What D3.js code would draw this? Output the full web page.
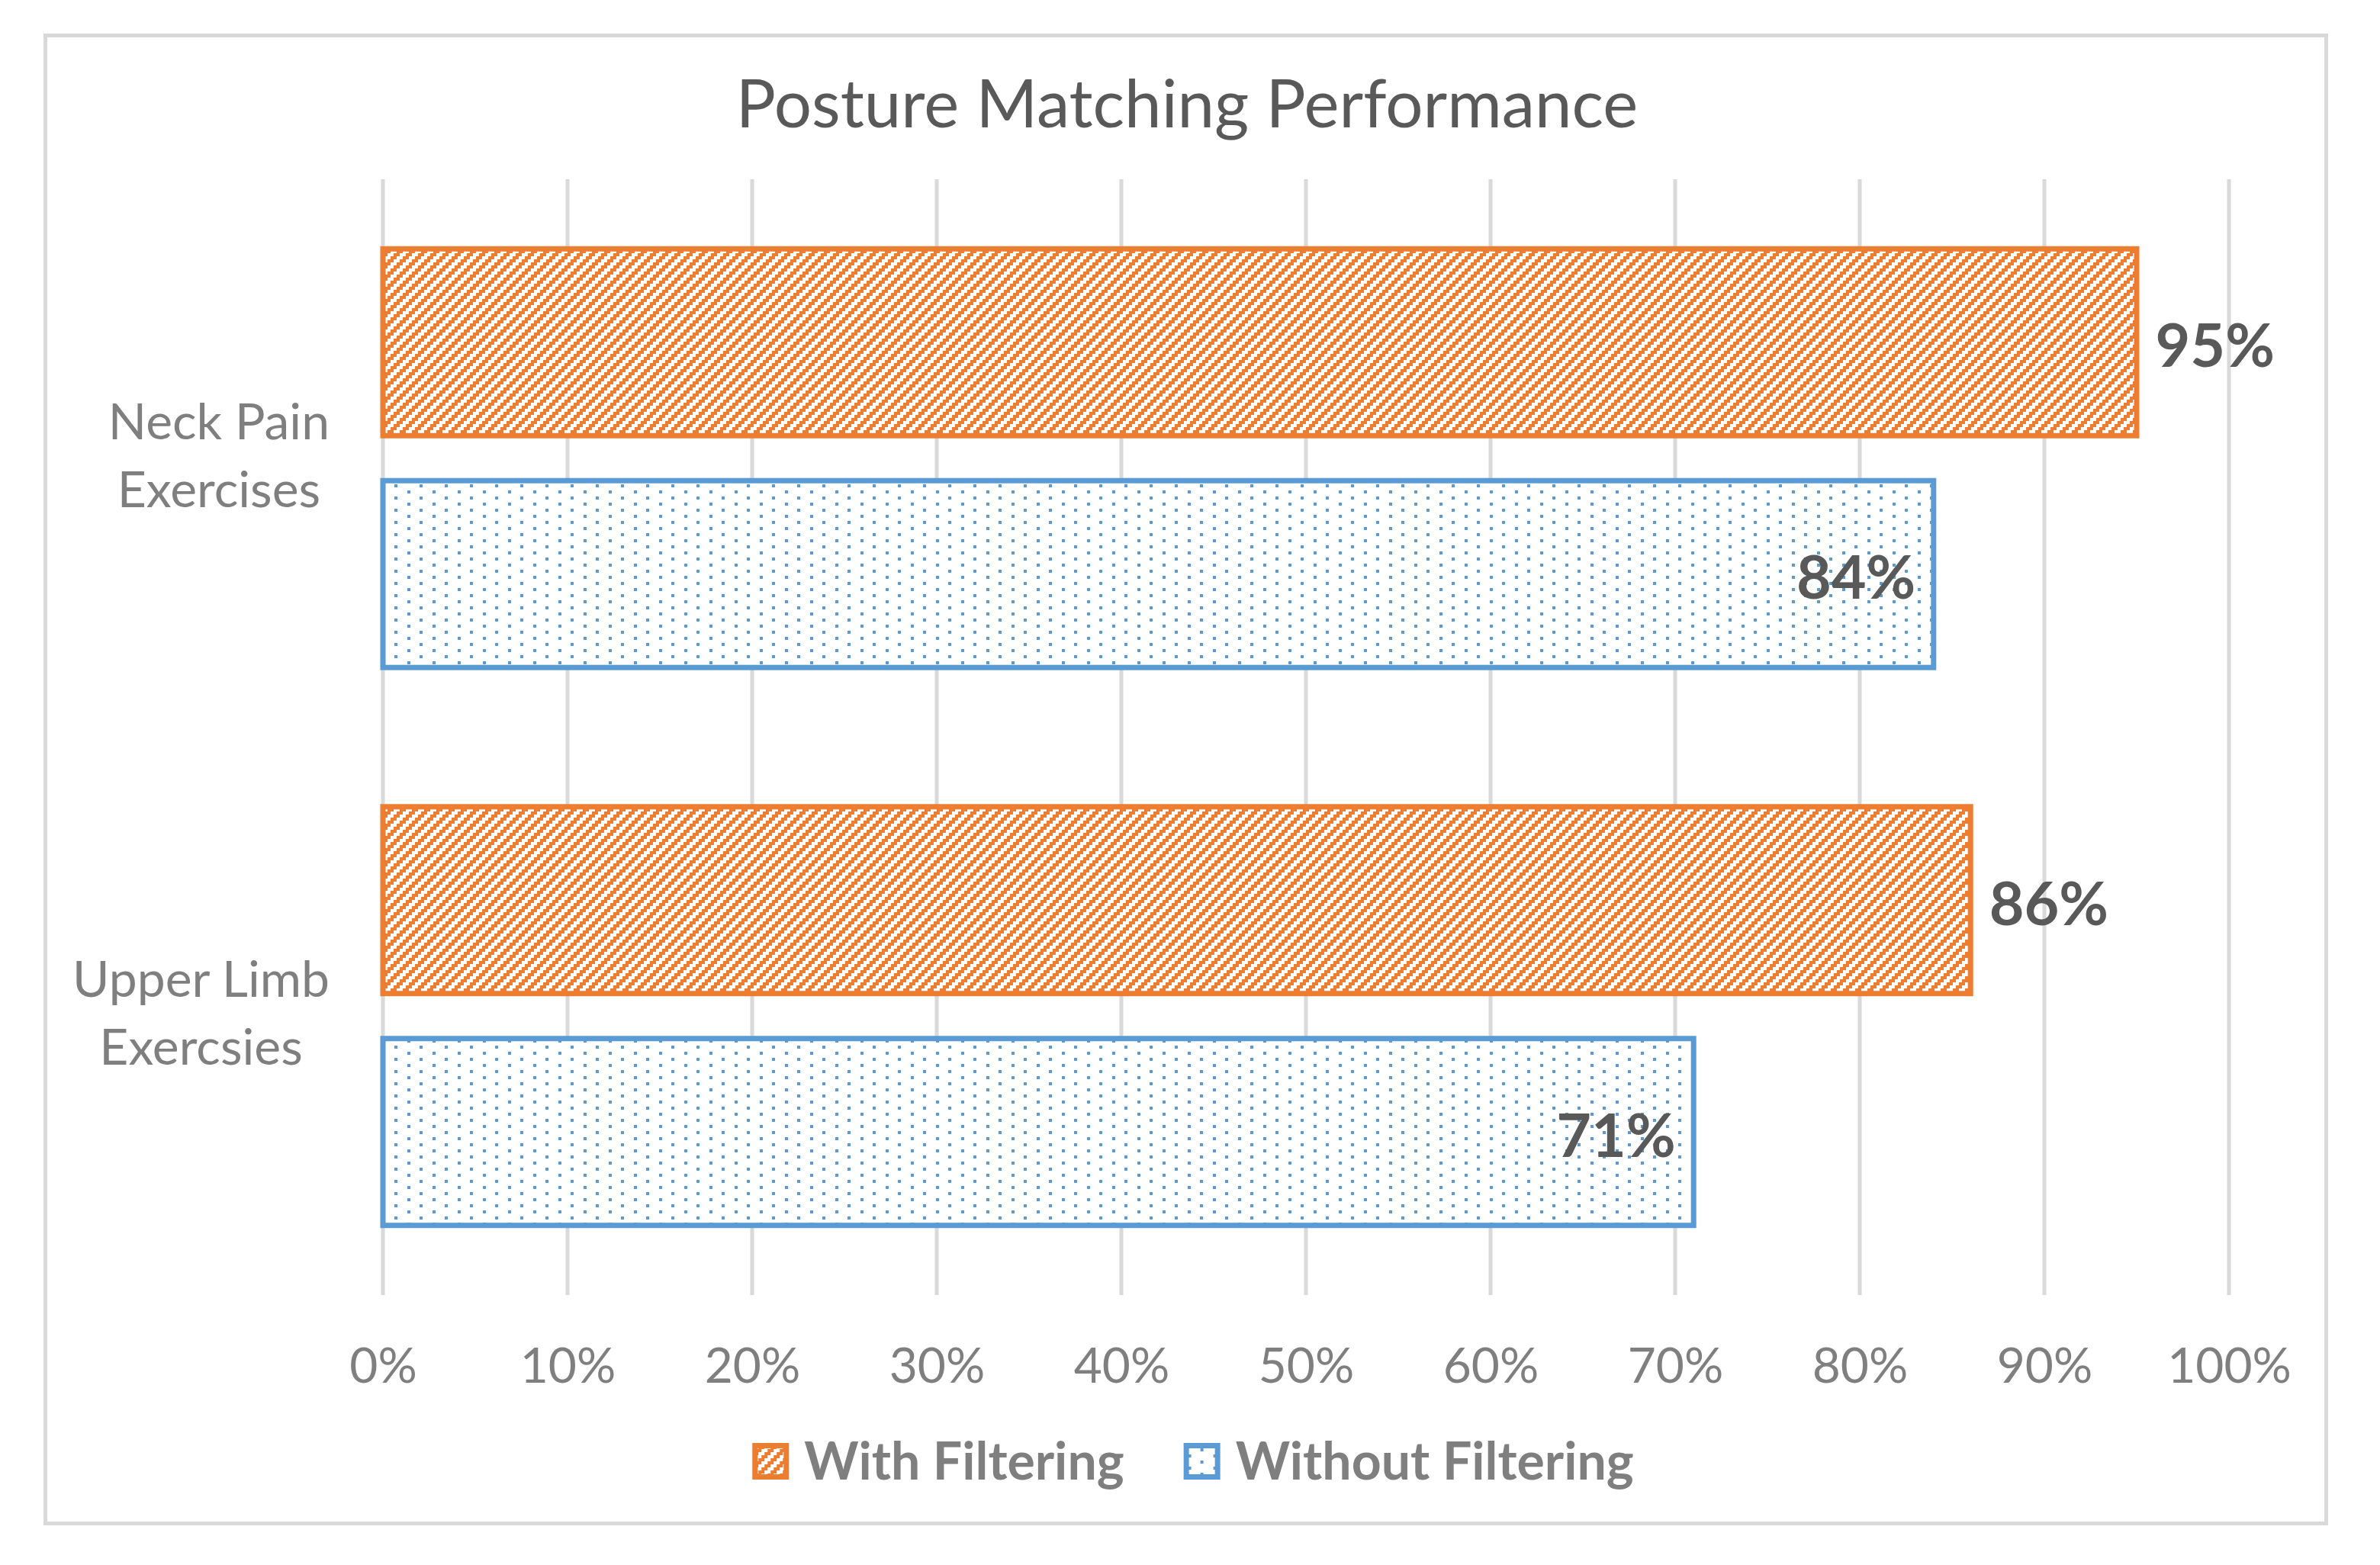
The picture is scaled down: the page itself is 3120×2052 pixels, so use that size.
<!DOCTYPE html>
<html><head><meta charset="utf-8">
<script src="https://cdn.jsdelivr.net/npm/d3@7/dist/d3.min.js"></script>
<style>html,body{margin:0;padding:0;background:#fff;} svg{display:block;}</style>
</head><body>
<script>
// ---- data ----
const title = "Posture Matching Performance";
const categories = ["Neck Pain Exercises", "Upper Limb Exercsies"];
const seriesNames = ["With Filtering", "Without Filtering"];
const withFiltering = [0.95, 0.86];
const withoutFiltering = [0.84, 0.71];
const tickValues = [0, 0.1, 0.2, 0.3, 0.4, 0.5, 0.6, 0.7, 0.8, 0.9, 1.0];
const tickLabels = ["0%", "10%", "20%", "30%", "40%", "50%", "60%", "70%", "80%", "90%", "100%"];
const valueLabels = [["95%", "86%"], ["84%", "71%"]];

// ---- styling ----
const W = 3120, H = 2052;
const FONT = "Lato, 'Open Sans', sans-serif";
const ORANGE = "#ED7D31", BLUE = "#5B9BD5", GRID = "#D9D9D9";
const seriesValues = [withFiltering, withoutFiltering];
const seriesColors = [ORANGE, BLUE];
const seriesFill = ["url(#hatch)", "url(#dots)"];

const svg = d3.select("body").append("svg").attr("width", W).attr("height", H);
svg.append("rect").attr("width", W).attr("height", H).attr("fill", "#fff");

// patterns
const defs = svg.append("defs");
const hatch = defs.append("pattern").attr("id", "hatch").attr("patternUnits", "userSpaceOnUse")
  .attr("width", 16).attr("height", 16);
hatch.append("rect").attr("width", 16).attr("height", 16).attr("fill", "#fff");
for (let cx = 0; cx < 4; cx++) for (let cy = 0; cy < 4; cy++) {
  if ((cx + cy) % 4 < 2) hatch.append("rect").attr("x", cx * 4).attr("y", cy * 4)
    .attr("width", 4).attr("height", 4).attr("fill", ORANGE).attr("shape-rendering", "crispEdges");
}
const dots = defs.append("pattern").attr("id", "dots").attr("patternUnits", "userSpaceOnUse")
  .attr("width", 33).attr("height", 16);
dots.append("rect").attr("width", 33).attr("height", 16).attr("fill", "#fff");
dots.append("rect").attr("x", 6).attr("y", 3).attr("width", 4).attr("height", 4).attr("fill", BLUE).attr("shape-rendering", "crispEdges");
dots.append("rect").attr("x", 22).attr("y", 11).attr("width", 4).attr("height", 4).attr("fill", BLUE).attr("shape-rendering", "crispEdges");

// chart border
svg.append("rect").attr("x", 59.5).attr("y", 46.5).attr("width", 2990).attr("height", 1951)
  .attr("fill", "none").attr("stroke", GRID).attr("stroke-width", 5);

// title
svg.append("text").attr("x", 1556).attr("y", 167).attr("text-anchor", "middle")
  .attr("font-family", FONT).attr("font-size", 87).attr("fill", "#595959").text(title);

// scales
const plotTop = 235, plotBottom = 1698;
const x = d3.scaleLinear().domain([0, 1]).range([502, 2922]);
const y = d3.scaleBand().domain(categories).range([plotTop, plotBottom]).paddingInner(0.24).paddingOuter(0.12);
const ySub = d3.scaleBand().domain(seriesNames).range([0, y.bandwidth()]).paddingInner(0.171).paddingOuter(0);

// gridlines
svg.append("g").selectAll("line").data(tickValues).join("line")
  .attr("x1", d => x(d)).attr("x2", d => x(d)).attr("y1", plotTop).attr("y2", plotBottom)
  .attr("stroke", GRID).attr("stroke-width", 5);

// tick labels via axis
const axis = svg.append("g").attr("transform", `translate(0,${plotBottom})`)
  .call(d3.axisBottom(x).tickValues(tickValues).tickFormat((d, i) => tickLabels[i]).tickSize(0).tickPadding(0));
axis.select(".domain").remove();
axis.selectAll("text").attr("font-family", FONT).attr("font-size", 64).attr("fill", "#7F7F7F")
  .attr("dy", null).attr("y", 1813 - plotBottom);

// bars
const SW = 7;
const barData = [];
categories.forEach((c, ci) => seriesNames.forEach((s, si) => {
  barData.push({ c, s, ci, si, v: seriesValues[si][ci], label: valueLabels[si][ci] });
}));
svg.append("g").selectAll("rect").data(barData).join("rect")
  .attr("x", x(0))
  .attr("y", d => y(d.c) + ySub(d.s) + SW / 2)
  .attr("width", d => x(d.v) - x(0))
  .attr("height", ySub.bandwidth() - SW)
  .attr("fill", d => seriesFill[d.si])
  .attr("stroke", d => seriesColors[d.si])
  .attr("stroke-width", SW);

// data labels
const LFS = 79;
svg.append("g").selectAll("text").data(barData).join("text")
  .attr("x", d => d.si === 0 ? x(d.v) + SW / 2 + 21 : x(d.v) - SW / 2 - 20)
  .attr("y", d => y(d.c) + ySub(d.s) + ySub.bandwidth() / 2 + 0.358 * LFS + 4)
  .attr("text-anchor", d => d.si === 0 ? "start" : "end")
  .attr("font-family", FONT).attr("font-weight", 700).attr("font-size", LFS).attr("fill", "#595959")
  .text(d => d.label);

// category labels (two lines, block right-aligned, lines centered)
const CFS = 66;
const catG = svg.append("g");
categories.forEach(c => {
  const k = c.lastIndexOf(" ");
  const lines = [c.slice(0, k), c.slice(k + 1)];
  const cy = y(c) + y.bandwidth() / 2;
  const texts = lines.map((ln, i) => catG.append("text")
    .attr("y", cy - 25 + i * 89).attr("text-anchor", "middle")
    .attr("font-family", FONT).attr("font-size", CFS).attr("fill", "#7F7F7F").text(ln));
  const bw = d3.max(texts, t => t.node().getComputedTextLength());
  texts.forEach(t => t.attr("x", 432 - bw / 2));
});

// legend
const LGFS = 68, box = 48, gapBT = 20, gapItems = 78;
const lg = svg.append("g");
const items = seriesNames.map((s, i) => {
  const g = lg.append("g");
  g.append("rect").attr("x", 3.5).attr("y", 1892 + 3.5).attr("width", box - 7).attr("height", box - 7)
    .attr("fill", seriesFill[i]).attr("stroke", seriesColors[i]).attr("stroke-width", 7);
  const t = g.append("text").attr("x", box + gapBT).attr("y", 1940)
    .attr("font-family", FONT).attr("font-weight", 700).attr("font-size", LGFS).attr("fill", "#7F7F7F").text(s);
  return { g, w: box + gapBT + t.node().getComputedTextLength() };
});
const total = d3.sum(items, d => d.w) + gapItems;
let cx0 = 1564 - total / 2;
items.forEach(it => { it.g.attr("transform", `translate(${cx0},0)`); cx0 += it.w + gapItems; });
</script>
</body></html>
